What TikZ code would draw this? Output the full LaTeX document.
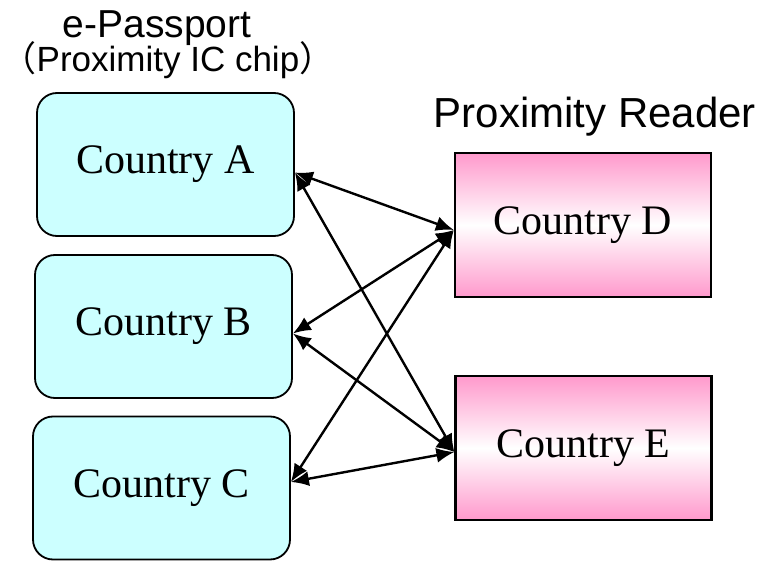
\documentclass[tikz,border=0pt]{standalone}
\usepackage{fontspec}
\setmainfont{Liberation Serif}
\newfontfamily\headfont{Liberation Sans}
\newfontfamily\cjk{Noto Sans CJK JP}
\usetikzlibrary{arrows.meta}
\definecolor{chipcyan}{RGB}{204,255,255}
\definecolor{readerpink}{RGB}{255,153,204}
\tikzset{
  chipbox/.style={draw=black,line width=1.8pt,fill=chipcyan,rounded corners=20pt,
    minimum width=257pt,minimum height=143pt,font=\fontsize{42}{46}\selectfont},
  readerbox/.style={draw=black,line width=2.2pt,top color=readerpink,bottom color=readerpink,
    middle color=white,minimum width=256pt,minimum height=144pt,font=\fontsize{42}{46}\selectfont},
  head/.style={anchor=base,inner sep=0pt,font=\headfont}
}
\begin{document}
\begin{tikzpicture}[x=1pt,y=-1pt,>={Latex[length=18pt,width=15pt]},line width=2.4pt]
\useasboundingbox (0,0) rectangle (763,561);
% captions
\node (pass) at (157,38) [head] {\fontsize{39}{42}\selectfont e-Passport};
\node (chip) at (168,72) [head] {\fontsize{35}{40}\selectfont{\cjk （}Proximity IC chip{\cjk ）}};
\node (read) at (595,128) [head] {\fontsize{42}{46}\selectfont Proximity Reader};
% boxes
\node (A) at (165.5,164.5) [chipbox] {Country A};
\node (B) at (163.5,326.5) [chipbox] {Country B};
\node (C) at (161.5,488) [chipbox] {Country C};
\node (D) at (583,225) [readerbox] {Country D};
\node (E) at (583.5,448) [readerbox] {Country E};
% arrow ends
\coordinate (a) at ([yshift=-8pt]A.east);
\coordinate (b) at ([yshift=-7pt]B.east);
\coordinate (c) at ([yshift=6pt]C.east);
\coordinate (d) at ([yshift=-5pt]D.west);
\coordinate (e) at ([yshift=-4pt]E.west);
\draw[<->] (a) -- (d);
\draw[<->] (a) -- (e);
\draw[<->] (b) -- (d);
\draw[<->] (b) -- (e);
\draw[<->] (c) -- (d);
\draw[<->] (c) -- (e);
\end{tikzpicture}
\end{document}
